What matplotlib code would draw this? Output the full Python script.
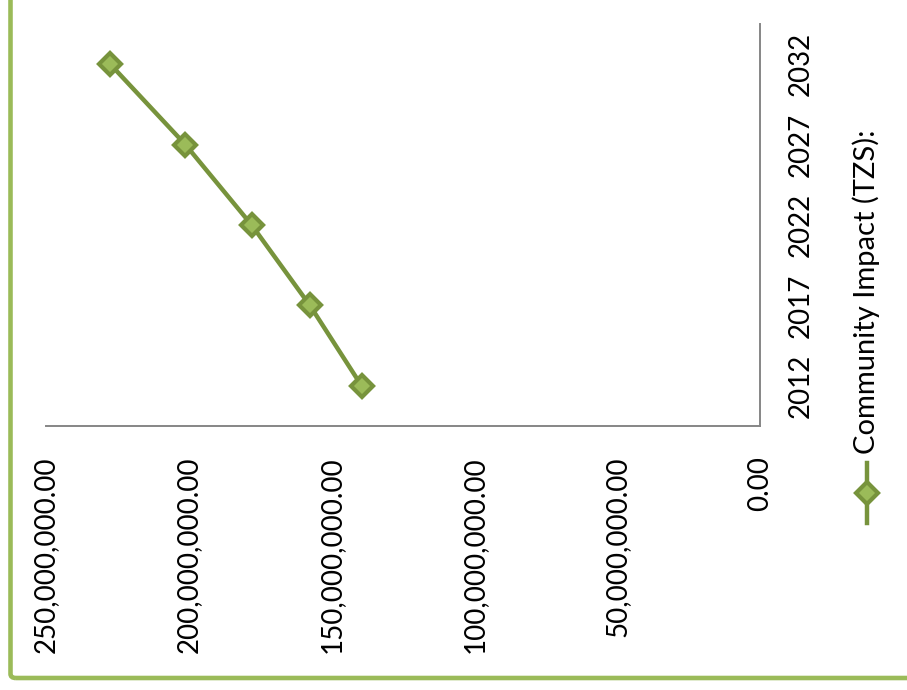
import matplotlib
matplotlib.use("Agg")
import matplotlib.pyplot as plt
from matplotlib.lines import Line2D
from matplotlib.patches import FancyBboxPatch
from matplotlib.ticker import FuncFormatter

# --- data ---
years = ["2012", "2017", "2022", "2027", "2032"]
impact_tzs = [139.5e6, 157.6e6, 178.0e6, 201.2e6, 227.5e6]
value_ticks = [0, 50e6, 100e6, 150e6, 200e6, 250e6]
series_name = "Community Impact (TZS):"

LINE = "#77933C"
FILL = "#9BBB59"
AXIS = "#868686"
FONT = "Lato"

plt.rcParams["font.family"] = FONT

fig = plt.figure(figsize=(9.07, 6.90), dpi=100)

# chart border (runs off the top and right edges)
border = FancyBboxPatch((10.5 / 907, 12 / 690), 1.2, 1.2,
                        boxstyle="round,pad=0,rounding_size=0.006",
                        transform=fig.transFigure, fill=False,
                        edgecolor=FILL, linewidth=3.3)
fig.add_artist(border)

# chart is laid out turned on its side: values run right-to-left
ax = fig.add_axes([46 / 907, 1 - 426 / 690, (760 - 46) / 907, (426 - 24) / 690])
pos = list(range(len(years)))
marker_style = dict(marker="D", markersize=11.5, markerfacecolor=FILL,
                    markeredgecolor=LINE, markeredgewidth=3.0)
ax.plot(impact_tzs, pos, color=LINE, linewidth=3.2,
        solid_joinstyle="round", zorder=3, **marker_style)

ax.set_xlim(250e6, 0)
ax.set_ylim(-0.5, len(years) - 0.5)
ax.set_xticks(value_ticks)
ax.xaxis.set_major_formatter(FuncFormatter(lambda v, _: f"{v:,.2f}"))
ax.set_yticks(pos)
ax.set_yticklabels(years)
ax.yaxis.tick_right()

for s in ["top", "left"]:
    ax.spines[s].set_visible(False)
for s in ["bottom", "right"]:
    ax.spines[s].set_color(AXIS)
    ax.spines[s].set_linewidth(1.4)

ax.tick_params(axis="x", length=0, pad=22, labelsize=20, labelrotation=90)
ax.tick_params(axis="y", length=0, pad=20, labelsize=20, labelrotation=90)
for lab in ax.get_xticklabels():
    lab.set_va("top")
for lab in ax.get_yticklabels():
    lab.set_va("center")
    lab.set_ha("left")

# legend entry, also on its side
lx = 867 / 907
fig.add_artist(Line2D([lx, lx], [1 - 523 / 690, 1 - 463 / 690],
                      transform=fig.transFigure, color=LINE, linewidth=3.2))
fig.add_artist(Line2D([lx], [1 - 493 / 690], transform=fig.transFigure,
                      **marker_style))
fig.text(lx - 1 / 907, 1 - 454 / 690, series_name, rotation=90, ha="center",
         va="bottom", fontsize=21)

fig.savefig("out.png", dpi=100)
